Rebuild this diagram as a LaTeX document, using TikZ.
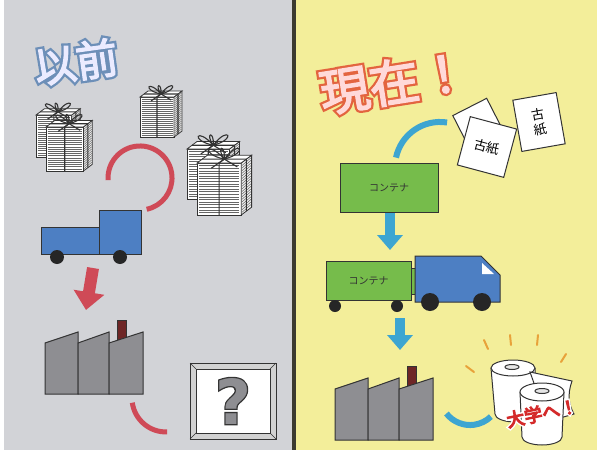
\documentclass[tikz,border=0pt]{standalone}
\usepackage{fontspec}
\newfontfamily\jp{Noto Sans CJK JP}
\newfontfamily\dv{DejaVu Sans}
\usetikzlibrary{arrows.meta}
\definecolor{leftbg}{HTML}{D2D3D7}
\definecolor{rightbg}{HTML}{F3EE9A}
\definecolor{divider}{HTML}{3B3A30}
\definecolor{truckblue}{HTML}{4D7FC3}
\definecolor{boxgreen}{HTML}{76BC4B}
\definecolor{arcred}{HTML}{CF4A57}
\definecolor{arcblue}{HTML}{3DA5D1}
\definecolor{wall}{HTML}{8E8E92}
\definecolor{chimney}{HTML}{6E2626}
\definecolor{edge}{HTML}{333333}
\definecolor{rayorange}{HTML}{E8A23A}
\definecolor{titleblue}{HTML}{6D8FB8}
\definecolor{titlered}{HTML}{E3643F}
\definecolor{univred}{HTML}{D42A2A}
\tikzset{
  body/.style={draw=edge,line width=1pt},
  wheel/.style={fill=black!85},
  redarc/.style={draw=arcred,line width=5pt},
  bluearc/.style={draw=arcblue,line width=6pt},
  redarrow/.style={draw=arcred,line width=12pt,-{Triangle[width=30pt,length=18pt]}},
  bluearrow/.style={draw=arcblue,line width=10pt,-{Triangle[width=25pt,length=15pt]}},
  sheet/.style={body,fill=white,minimum width=#1,minimum height=50pt,inner sep=0pt,font=\jp\fontsize{13}{15}\selectfont,align=center},
  label/.style={font=\jp\fontsize{10}{12}\selectfont,text=edge}
}
% text with a coloured rim: name, position, angle, font, rim, fill, text, rim weight
\newcommand{\halotext}[8]{%
  \node[font={#4\addfontfeatures{FakeBold=#8}},text=#5,rotate=#3] (#1-rim) at #2 {#7};
  \node[font=#4,text=#6,rotate=#3] (#1) at #2 {#7};}
% tied stack of newspapers, front face bottom-left at (#1,#2)
\newcommand{\bundle}[3]{%
  \begin{scope}[shift={(#1,#2)},scale=#3]
    \draw[edge,fill=white,line width=0.8pt] (0,0) rectangle (34,-40);
    \draw[edge,fill=gray!12,line width=0.8pt] (34,0) -- (42,-6) -- (42,-46) -- (34,-40) -- cycle;
    \draw[edge,fill=white,line width=0.8pt] (0,-40) -- (8,-46) -- (42,-46) -- (34,-40) -- cycle;
    \foreach \k in {2,4,...,38} {
      \draw[black!60,line width=0.5pt] (1.5,-\k) -- (32.5,-\k);
      \draw[black!60,line width=0.5pt] (34.5,-\k) -- (41.5,-\k-6);}
    \draw[edge,line width=1.1pt] (17,0) -- (17,-40) -- (25,-46) (4,-43) -- (38,-43) -- (38,-3);
    \draw[edge,line width=1.1pt] (21,-43) .. controls (8,-58) and (2,-47) .. (21,-43)
      .. controls (33,-59) and (40,-48) .. (21,-43)
      (21,-43) .. controls (14,-53) and (22,-55) .. (21,-43)
      (21,-43) -- (11,-36) (21,-43) -- (31,-37);
  \end{scope}}
% three-roofed factory, bottom-left at (#1,#2)
\newcommand{\factory}[2]{%
  \begin{scope}[shift={(#1,#2)}]
    \draw[edge,fill=chimney,line width=0.8pt] (72,-48) rectangle (81,-74);
    \foreach \l/\r in {0/33,33/64,64/98}
      \draw[body,fill=wall] (\l,0) -- (\l,-51) -- (\r,-62) -- (\r,0) -- cycle;
  \end{scope}}
\begin{document}
\begin{tikzpicture}[x=1pt,y=-1pt]
\useasboundingbox (0,0) rectangle (597,450);
\fill[white] (0,0) rectangle (597,450);
\fill[leftbg] (4,0) rectangle (292,450);
\fill[rightbg] (296,0) rectangle (597,450);
\fill[divider] (292,0) rectangle (296,450);

% before
\halotext{before}{(76,62)}{8}{\jp\fontsize{42}{46}\selectfont\addfontfeatures{FakeBold=3}}{titleblue}{white!92!blue}{以前}{14}
\bundle{36}{157}{1.05}
\bundle{46}{171}{1.1}
\bundle{140}{137}{1.0}
\bundle{187}{199}{1.25}
\bundle{197}{215}{1.3}
\draw[redarc] (108.1,180.2) arc[start angle=176,end angle=438,radius=32];
\draw[body,fill=truckblue] (41,227) rectangle (99,254);
\draw[body,fill=truckblue] (99,210) rectangle (141,254);
\fill[wheel] (57,257) circle (7) (120,257) circle (7);
\coordinate (r1) at (93,268);
\coordinate (r2) at (86,310);
\draw[redarrow] (r1) -- (r2);
\factory{45}{394}
\draw[redarc] (132.3,402.7) arc[start angle=172,end angle=88,radius=34];
\draw[body,fill=gray!35] (190,363) rectangle (276,439);
\draw[body,fill=white] (196,369) rectangle (270,433);
\draw[edge,line width=0.6pt] (190,363) -- (196,369) (276,363) -- (270,369)
  (190,439) -- (196,433) (276,439) -- (270,433);
\halotext{what}{(233,401)}{0}{\dv\bfseries\fontsize{62}{62}\selectfont}{edge}{wall}{?}{4}

% now
\halotext{now}{(394,82)}{9}{\jp\fontsize{50}{54}\selectfont\addfontfeatures{FakeBold=3}}{titlered}{white!85!red}{現在！}{12}
\draw[bluearc] (396,157.6) arc[start angle=192,end angle=279,radius=45];
\draw[body,fill=white,rotate around={27:(482,131)}] (463,104) rectangle (501,158);
\node[sheet=48pt,rotate=-15] (paper2) at (487,147) {古紙};
\node[sheet=44pt,minimum height=52pt,rotate=10] (paper3) at (539,122) {古\\紙};
\node[body,fill=boxgreen,minimum width=98pt,minimum height=49pt,label] (box) at (389,187.5) {コンテナ};
\coordinate (b1) at (390,213);
\coordinate (b2) at (390,250);
\draw[bluearrow] (b1) -- (b2);
\draw[body,fill=boxgreen] (411,268) rectangle (415,294);
\node[body,fill=boxgreen,minimum width=85pt,minimum height=39pt,label] (trailer) at (368.5,280.5) {コンテナ};
\draw[body,fill=truckblue] (415,256) -- (481,256) -- (500,275) -- (500,302) -- (415,302) -- cycle;
\fill[white] (482,263) -- (494,274) -- (482,274) -- cycle;
\fill[wheel] (335,306) circle (6) (397,306) circle (6) (430,302) circle (9) (482,302) circle (9);
\coordinate (b3) at (400,318);
\coordinate (b4) at (400,350);
\draw[bluearrow] (b3) -- (b4);
\factory{335}{440}
\draw[bluearc] (446.4,413.5) arc[start angle=142,end angle=46,radius=30];
\draw[rayorange,line width=2pt,line cap=round] (466,366) -- (474,372) (484,340) -- (488,349)
  (510,335) -- (511,345) (538,335) -- (537,345) (566,354) -- (561,362);
\draw[body,fill=white] (491,368) -- (495,414) arc[start angle=180,end angle=0,x radius=20,y radius=8] -- (535,368);
\draw[body,fill=white] (513,368) ellipse[x radius=22,y radius=8];
\draw[body,fill=gray!20] (512,367) ellipse[x radius=7,y radius=2.5];
\draw[body,fill=white] (530,372) -- (572,381) .. controls (567,395) and (569,405) .. (574,414)
  -- (560,418) -- (540,400) -- cycle;
\draw[body,fill=white] (520,392) -- (522,437) arc[start angle=180,end angle=0,x radius=20,y radius=8] -- (564,392);
\draw[body,fill=white] (542,392) ellipse[x radius=22,y radius=9];
\draw[body,fill=gray!20] (542,391) ellipse[x radius=7,y radius=2.5];
\halotext{univ}{(542,413)}{12}{\jp\fontsize{18}{20}\selectfont\addfontfeatures{FakeBold=6}}{white}{univred}{大学へ！}{22}
\end{tikzpicture}
\end{document}
